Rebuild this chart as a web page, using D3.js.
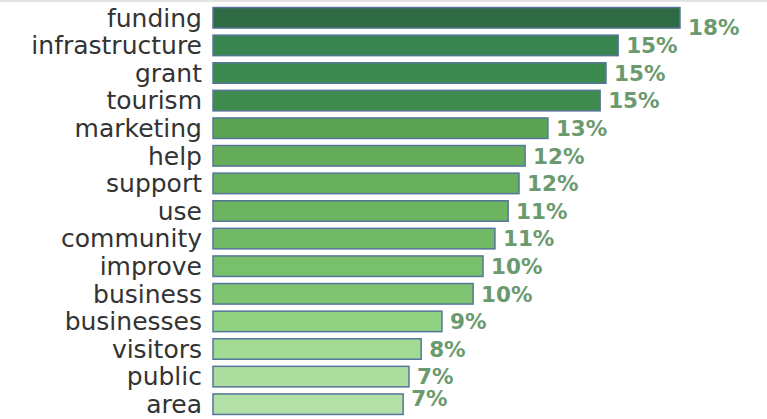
<!DOCTYPE html>
<html>
<head>
<meta charset="utf-8">
<script src="https://cdn.jsdelivr.net/npm/d3@7"></script>
<style>
  html, body { margin: 0; padding: 0; background: #fff; }
  svg { display: block; }
</style>
</head>
<body>
<svg id="chart" width="767" height="419"></svg>
<script>
const categories = ["funding","infrastructure","grant","tourism","marketing","help","support","use","community","improve","business","businesses","visitors","public","area"];
const values = [18.42, 15.98, 15.50, 15.27, 13.21, 12.31, 12.07, 11.64, 11.12, 10.65, 10.26, 9.03, 8.21, 7.73, 7.50];
const valueLabels = ["18%","15%","15%","15%","13%","12%","12%","11%","11%","10%","10%","9%","8%","7%","7%"];

const greens = ["#b3e0a6","#a5db96","#98d687","#8ed07f","#85ca77","#7dc370","#75bc69","#6eb663","#67af5c","#61a956","#59a253","#519c51","#49964f","#428f4d","#3c8a4f","#368450","#327c4c","#30744a","#2f6f47","#2e6a44"];

const W = 767, H = 419;
const svg = d3.select("#chart");

const x = d3.scaleLinear().domain([0, d3.max(values)]).range([213, 680]);
const y = d3.scaleBand().domain(categories).range([4, 418]).paddingInner(0.257).paddingOuter(0.1285);
const color = d3.scaleSequential(d3.interpolateRgbBasis(greens)).domain([d3.min(values), d3.max(values)]);

// top border line
svg.append("line").attr("x1", 0).attr("x2", W).attr("y1", 1).attr("y2", 1)
  .attr("stroke", "#e3e3e3").attr("stroke-width", 2);

const data = categories.map((c, i) => ({c, v: values[i], label: valueLabels[i]}));

// bars
svg.append("g").selectAll("rect").data(data).join("rect")
  .attr("x", x(0))
  .attr("y", d => y(d.c))
  .attr("width", d => x(d.v) - x(0))
  .attr("height", y.bandwidth())
  .attr("fill", d => color(d.v))
  .attr("stroke", "#55759a")
  .attr("stroke-width", 1.5);

// category axis (labels only)
const yAxis = d3.axisLeft(y).tickSize(0).tickPadding(0);
const ga = svg.append("g").attr("transform", "translate(202,0)").call(yAxis);
ga.select(".domain").remove();
ga.selectAll("text")
  .attr("font-family", "DejaVu Sans, Verdana, sans-serif")
  .attr("font-size", 25)
  .attr("fill", "#333333")
  .attr("dy", "0.35em");

// value labels, kept inside pane
const labelMin = 27, labelMax = 398;
svg.append("g").selectAll("text").data(data).join("text")
  .attr("x", d => x(d.v) + 8)
  .attr("y", d => Math.max(labelMin, Math.min(labelMax, y(d.c) + y.bandwidth() / 2)))
  .attr("dy", "0.36em")
  .attr("font-family", "DejaVu Sans, Verdana, sans-serif")
  .attr("font-weight", "bold")
  .attr("font-size", 21.5)
  .attr("fill", "#6a9a6e")
  .text(d => d.label);
</script>
</body>
</html>
